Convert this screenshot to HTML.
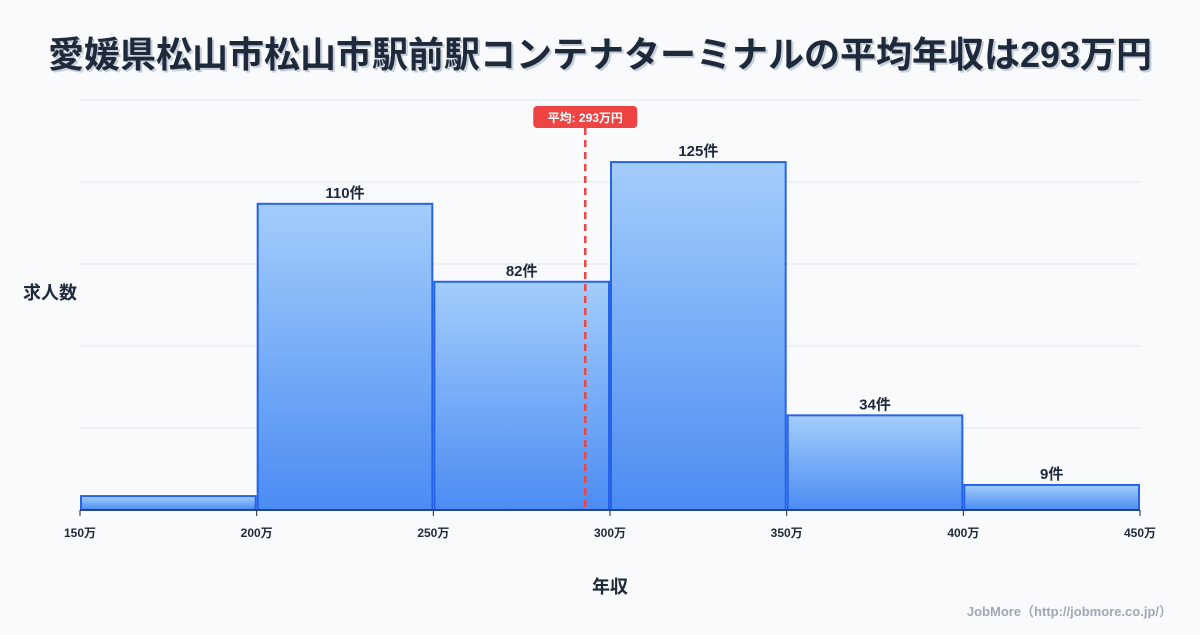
<!DOCTYPE html>
<html><head><meta charset="utf-8"><style>
body{margin:0;width:1200px;height:630px;background:#f8fafc;font-family:"Liberation Sans","Noto Sans CJK JP",sans-serif;overflow:hidden}
</style></head><body>
<svg width="1200" height="630" id="c">
<defs><linearGradient id="g" x1="0" y1="0" x2="0" y2="1"><stop offset="0" stop-color="#a3cdfb"/><stop offset="1" stop-color="#4b8cf3"/></linearGradient></defs>
<text x="600" y="67" text-anchor="middle" font-size="36" font-weight="bold" fill="#94a3b8" opacity="0.5" transform="translate(2,2)" font-family="Liberation Sans,Noto Sans CJK JP,sans-serif">愛媛県松山市松山市駅前駅コンテナターミナルの平均年収は293万円</text>
<text x="600" y="67" text-anchor="middle" font-size="36" font-weight="bold" fill="#1e293b" font-family="Liberation Sans,Noto Sans CJK JP,sans-serif">愛媛県松山市松山市駅前駅コンテナターミナルの平均年収は293万円</text>
<text x="50" y="299" text-anchor="middle" font-size="18" font-weight="bold" fill="#1e293b" font-family="Liberation Sans,Noto Sans CJK JP,sans-serif">求人数</text>
<text x="610" y="593" text-anchor="middle" font-size="18" font-weight="bold" fill="#1e293b" font-family="Liberation Sans,Noto Sans CJK JP,sans-serif">年収</text>
<text x="1172" y="616" text-anchor="end" font-size="13" font-weight="bold" fill="#a0a8b4" font-family="Liberation Sans,Noto Sans CJK JP,sans-serif">JobMore（http://jobmore.co.jp/）</text>
<g id="grid"></g><g id="bars"></g><g id="ticks"></g><g id="mean"></g>
</svg>
<script>
const binStarts=[150,200,250,300,350,400];
const binWidth=50;
const counts=[5,110,82,125,34,9];
const showLabel=[false,true,true,true,true,true];
const xTicks=[150,200,250,300,350,400,450];
const meanValue=293;
const yMax=147.3;
const NS="http://www.w3.org/2000/svg";
const x=v=>80+(v-150)*(1060/300);
const y=v=>510-v*(410/yMax);
function mk(t,a,p){const e=document.createElementNS(NS,t);for(const k in a)e.setAttribute(k,a[k]);p.appendChild(e);return e;}
const F="Liberation Sans,Noto Sans CJK JP,sans-serif";
const grid=document.getElementById('grid');
for(let i=0;i<=5;i++){const yy=510-i*82;const l=mk('line',{x1:80,x2:1140,y1:yy,y2:yy,stroke:'#e2e8f0','stroke-width':1},grid);

}
const bars=document.getElementById('bars');
counts.forEach((c,i)=>{const x0=x(binStarts[i])+1,x1=x(binStarts[i]+binWidth)-1;
const r=mk('rect',{x:x0,y:y(c),width:x1-x0,height:510-y(c),fill:'url(#g)',stroke:'#2563eb','stroke-width':2},bars);


if(showLabel[i]){const t=mk('text',{x:(x0+x1)/2,y:y(c)-6,'text-anchor':'middle','font-size':15,'font-weight':'bold',fill:'#1e293b','font-family':F},bars);t.textContent=c+'件';

}});
const tk=document.getElementById('ticks');
mk('line',{x1:80,x2:1140,y1:510,y2:510,stroke:'#1e293b','stroke-width':1},tk);
xTicks.forEach(v=>{mk('line',{x1:x(v),x2:x(v),y1:510,y2:516,stroke:'#1e293b'},tk);
const t=mk('text',{x:x(v),y:537,'text-anchor':'middle','font-size':12,'font-weight':'bold',fill:'#1e293b','font-family':F},tk);t.textContent=v+'万';

});
const m=document.getElementById('mean');const mx=x(meanValue);
const ml=mk('line',{x1:mx,x2:mx,y1:128,y2:510,stroke:'#ef4444','stroke-width':2.5,'stroke-dasharray':'7,5'},m);


const mr=mk('rect',{x:mx-52,y:106,width:104,height:22,rx:4,fill:'#ef4444'},m);


const mt=mk('text',{x:mx,y:122,'text-anchor':'middle','font-size':12,'font-weight':'bold',fill:'#fff','font-family':F},m);mt.textContent='平均: '+meanValue+'万円';


</script>
</body></html>
